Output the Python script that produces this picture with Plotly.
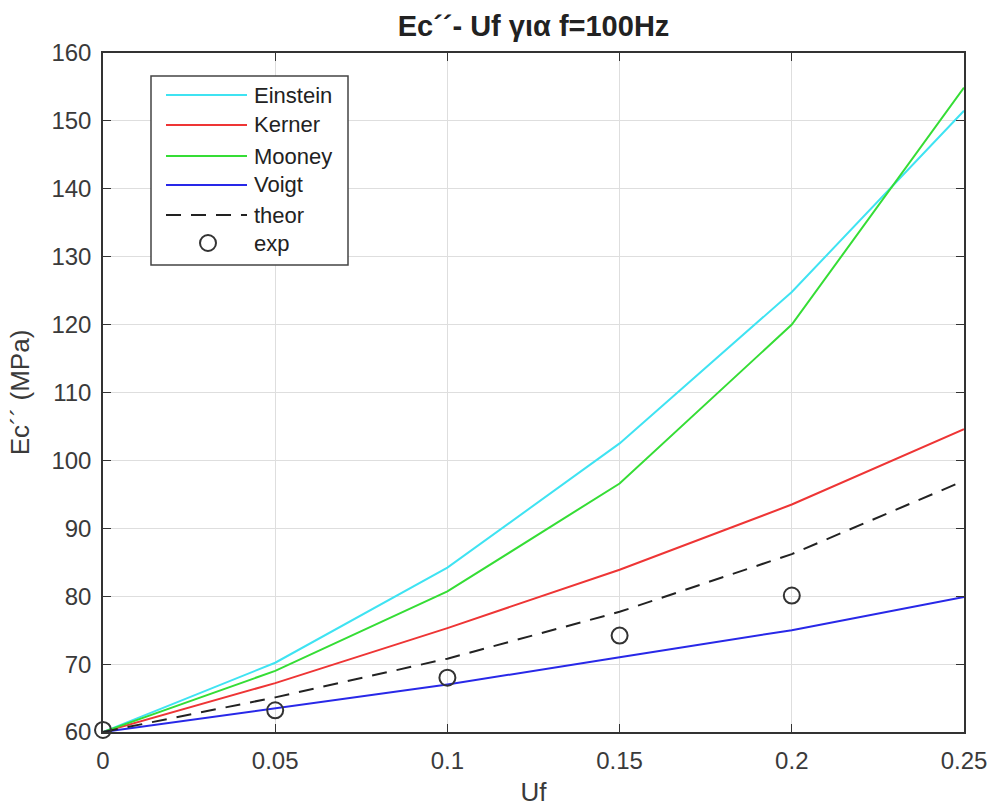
import plotly.graph_objects as go

# Volume fraction of filler
uf = [0.0, 0.05, 0.10, 0.15, 0.20, 0.25]

# Loss modulus Ec'' (MPa) predicted by each model at f = 100 Hz
einstein = [60.0, 70.2, 84.2, 102.5, 124.8, 151.5]
kerner = [60.0, 67.2, 75.3, 83.9, 93.5, 104.6]
mooney = [60.0, 69.0, 80.7, 96.6, 120.0, 154.9]
voigt = [60.0, 63.5, 67.0, 71.0, 75.0, 79.9]
theor = [60.0, 65.1, 70.8, 77.7, 86.2, 97.0]

# Measured values
uf_exp = [0.0, 0.05, 0.10, 0.15, 0.20]
exp_vals = [60.3, 63.2, 68.0, 74.2, 80.1]

x_ticks = [0, 0.05, 0.1, 0.15, 0.2, 0.25]
x_tick_text = ["0", "0.05", "0.1", "0.15", "0.2", "0.25"]
y_ticks = [60, 70, 80, 90, 100, 110, 120, 130, 140, 150, 160]

names = ["Einstein", "Kerner", "Mooney", "Voigt", "theor"]
series = [einstein, kerner, mooney, voigt, theor]
colors = ["#3fe3f2", "#ee3535", "#35dd35", "#2828e8", "#222222"]
dashes = ["solid", "solid", "solid", "solid", "15px,10px"]

W, H = 992, 807
L, R, T, B = 103, 28, 53, 75
pw, ph = W - L - R, H - T - B

font_family = "Arial, Liberation Sans, sans-serif"
axis_col = "#333333"
text_col = "#3a3a3a"

fig = go.Figure()
for name, ys, col, dsh in zip(names, series, colors, dashes):
    fig.add_trace(go.Scatter(x=uf, y=ys, mode="lines", name=name,
                             line=dict(color=col, width=2, dash=dsh),
                             showlegend=False))
fig.add_trace(go.Scatter(x=uf_exp, y=exp_vals, mode="markers", name="exp",
                         marker=dict(symbol="circle-open", size=16,
                                     color="#333333", line=dict(width=2)),
                         cliponaxis=False, showlegend=False))


def px_x(p):
    return (p - L) / pw


def px_y(p):
    return (H - B - p) / ph


# Boxed legend in the upper-left corner
box_l, box_r, box_t, box_b = 151, 348, 76, 265
shapes = [dict(type="rect", xref="paper", yref="paper",
               x0=px_x(box_l), x1=px_x(box_r), y0=px_y(box_b), y1=px_y(box_t),
               line=dict(color="#444444", width=1.5), fillcolor="white", layer="above")]
annotations = []
row_y = [95, 125, 156, 185, 215, 243]
for i, (name, col, dsh) in enumerate(zip(names, colors, dashes)):
    shapes.append(dict(type="line", xref="paper", yref="paper",
                       x0=px_x(166), x1=px_x(247), y0=px_y(row_y[i]), y1=px_y(row_y[i]),
                       line=dict(color=col, width=2, dash=dsh), layer="above"))
    annotations.append(dict(x=px_x(252), y=px_y(row_y[i]), xref="paper", yref="paper",
                            text=name, showarrow=False, xanchor="left", yanchor="middle",
                            font=dict(size=22, color="#222222", family=font_family)))
annotations.append(dict(x=px_x(252), y=px_y(row_y[5]), xref="paper", yref="paper",
                        text="exp", showarrow=False, xanchor="left", yanchor="middle",
                        font=dict(size=22, color="#222222", family=font_family)))
# Circle marker sample for the "exp" entry
shapes.append(dict(type="circle", xref="paper", yref="paper",
                   x0=px_x(208 - 8), x1=px_x(208 + 8),
                   y0=px_y(row_y[5] + 8), y1=px_y(row_y[5] - 8),
                   line=dict(color="#333333", width=2), layer="above"))

fig.update_layout(
    width=W, height=H,
    margin=dict(l=L, r=R, t=T, b=B),
    paper_bgcolor="white", plot_bgcolor="white",
    font=dict(family=font_family, color=text_col),
    title=dict(text="<b>Ec´´- Uf για f=100Hz</b>", x=(L + pw / 2) / W, xanchor="center",
               y=1 - 26 / H, yanchor="middle",
               font=dict(size=29, color="#222222", family=font_family)),
    shapes=shapes,
    annotations=annotations,
    showlegend=False,
)

fig.update_xaxes(
    range=[0, 0.25], tickvals=x_ticks, ticktext=x_tick_text, automargin=False,
    showgrid=True, gridcolor="#dedede", gridwidth=1,
    showline=True, linecolor=axis_col, linewidth=1.5, mirror="ticks",
    ticks="inside", ticklen=8, tickcolor=axis_col, tickwidth=1.2,
    tickfont=dict(size=24, color=text_col), zeroline=False, ticklabelstandoff=6,
    title=dict(text="Uf", font=dict(size=26, color=text_col), standoff=10),
)
fig.update_yaxes(
    range=[60, 160], tickvals=y_ticks, automargin=False,
    showgrid=True, gridcolor="#dedede", gridwidth=1,
    showline=True, linecolor=axis_col, linewidth=1.5, mirror="ticks",
    ticks="inside", ticklen=8, tickcolor=axis_col, tickwidth=1.2,
    tickfont=dict(size=24, color=text_col), zeroline=False, ticklabelstandoff=5,
    title=dict(text="Ec´´ (MPa)", font=dict(size=26, color=text_col), standoff=14),
)

fig.write_html("out.html")
